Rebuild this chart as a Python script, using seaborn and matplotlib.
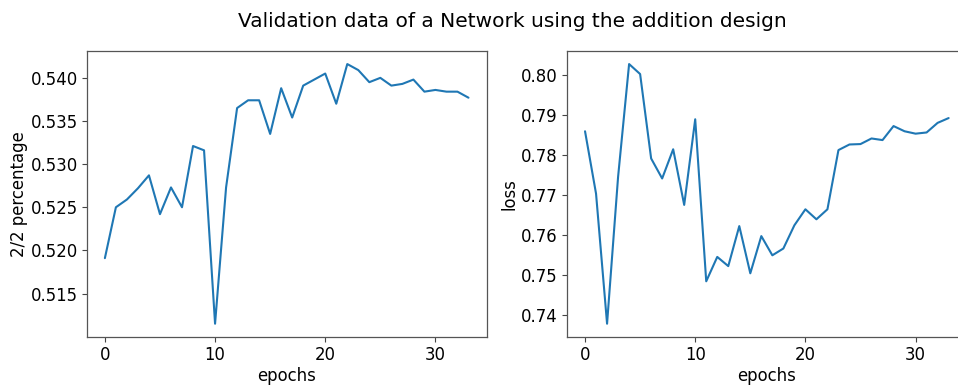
import numpy as np
import pandas as pd
import matplotlib
matplotlib.use("Agg")
import matplotlib.pyplot as plt
import seaborn as sns

epochs = list(range(34))
accuracy = [0.5191, 0.5250, 0.5259, 0.5272, 0.5287, 0.5242, 0.5273, 0.5250,
            0.5321, 0.5316, 0.5115, 0.5273, 0.5365, 0.5374, 0.5374, 0.5335,
            0.5388, 0.5354, 0.5391, 0.5398, 0.5405, 0.5370, 0.5416, 0.5409,
            0.5395, 0.5400, 0.5391, 0.5393, 0.5398, 0.5384, 0.5386, 0.5384,
            0.5384, 0.5377]
loss = [0.7860, 0.7704, 0.7379, 0.7746, 0.8028, 0.8003, 0.7792, 0.7742,
        0.7815, 0.7676, 0.7890, 0.7485, 0.7546, 0.7523, 0.7623, 0.7505,
        0.7598, 0.7550, 0.7567, 0.7625, 0.7665, 0.7640, 0.7665, 0.7813,
        0.7827, 0.7828, 0.7842, 0.7838, 0.7873, 0.7860, 0.7854, 0.7857,
        0.7881, 0.7893]

title = "Validation data of a Network using the addition design"
xlabel = "epochs"
ylabel_left = "2/2 percentage"
ylabel_right = "loss"

FS = 11.9

sns.set_style("ticks")
plt.rcParams["font.family"] = ["DejaVu Sans"]
plt.rcParams["font.size"] = FS
plt.rcParams["text.color"] = "black"
plt.rcParams["axes.labelcolor"] = "black"
plt.rcParams["xtick.color"] = "black"
plt.rcParams["ytick.color"] = "black"

df = pd.DataFrame({"epochs": epochs, "accuracy": accuracy, "loss": loss})

fig = plt.figure(figsize=(9.58, 3.86), dpi=100)
ax1 = fig.add_axes([0.0905, 0.1277, 0.4175, 0.740])
ax2 = fig.add_axes([0.5917, 0.1277, 0.4175, 0.740])

sns.lineplot(data=df, x="epochs", y="accuracy", ax=ax1, color="#1f77b4", linewidth=1.5)
sns.lineplot(data=df, x="epochs", y="loss", ax=ax2, color="#1f77b4", linewidth=1.5)

ax1.set_yticks([0.515, 0.520, 0.525, 0.530, 0.535, 0.540])
ax1.set_yticklabels([f"{v:.3f}" for v in [0.515, 0.520, 0.525, 0.530, 0.535, 0.540]])
ax2.set_yticks([0.74, 0.75, 0.76, 0.77, 0.78, 0.79, 0.80])
ax2.set_yticklabels([f"{v:.2f}" for v in [0.74, 0.75, 0.76, 0.77, 0.78, 0.79, 0.80]])

for ax, yl in ((ax1, ylabel_left), (ax2, ylabel_right)):
    ax.set_xticks([0, 10, 20, 30])
    ax.set_xlabel(xlabel, fontsize=FS, labelpad=2, color="black")
    ax.set_ylabel(yl, fontsize=FS, labelpad=2, color="black")
    ax.tick_params(labelsize=FS, length=3.5, width=0.8, pad=3, color="#444444", labelcolor="black")
    for s in ax.spines.values():
        s.set_visible(True)
        s.set_color("#555555")
        s.set_linewidth(0.9)

fig.text(0.535, 0.945, title, ha="center", va="center", fontsize=14.5, color="black")

fig.savefig("out.png", dpi=100)
